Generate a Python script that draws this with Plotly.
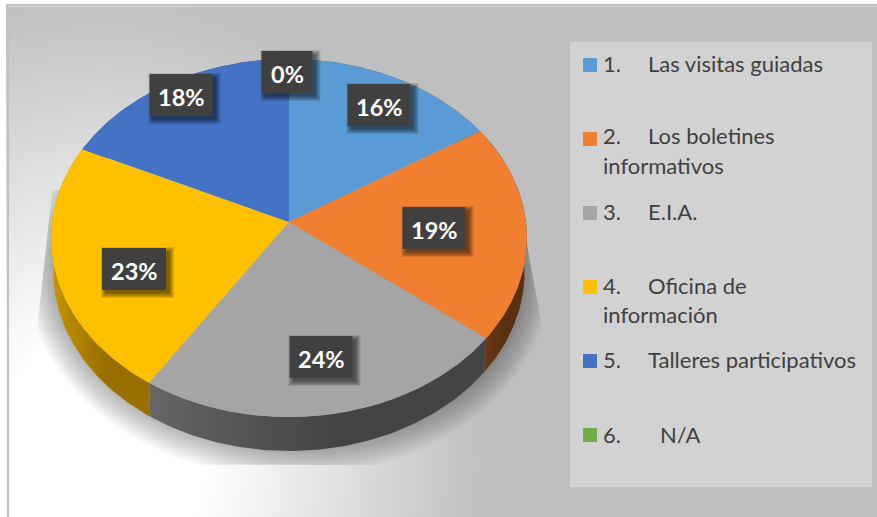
import numpy as np
import plotly.graph_objects as go

# ---- data ----
categories = ["1.", "2.", "3.", "4.", "5.", "6."]
category_names = ["Las visitas guiadas", "Los boletines informativos", "E.I.A.",
                  "Oficina de información", "Talleres participativos", "N/A"]
shares = [16.0, 19.6, 23.6, 22.8, 18.0, 0.0]
percent_labels = ["16%", "19%", "24%", "23%", "18%", "0%"]

# ---- style ----
top_colors = ["#5b9bd5", "#f07f30", "#a5a5a5", "#ffc000", "#4472c4", "#70ad47"]
side_colors = [("#33577a", "#33577a"), ("#6e3a14", "#5a2f10"), ("#666666", "#444444"),
               ("#c49400", "#996f00"), ("#2a4a80", "#2a4a80"), ("#41662a", "#41662a")]
W, H_PX = 877, 517
CX, CY = 289.0, 222.0
RX, RY, K = 237.0, 177.6, 0.0894
DEPTH = 34.0
label_boxes = [(379, 105, 63, 42), (434, 228, 63, 42), (321, 357, 63, 42),
               (134, 269, 64, 42), (181, 95, 63, 42), (287, 72, 51, 42)]
legend_rows = [[("1.", "Las visitas guiadas", 63.5)],
               [("2.", "Los boletines", 135.5), ("", "informativos", 165.5)],
               [("3.", "E.I.A.", 211.5)],
               [("4.", "Oficina de", 285.5), ("", "información", 314.5)],
               [("5.", "Talleres participativos", 359.5)],
               [("6.", "N/A", 434.5)]]
marker_y = [65, 139, 213, 287, 361, 435]
FONT = "Lato"


def rim(theta, e=0.0, dy=0.0, xs=1.0):
    u, v = np.sin(theta), np.cos(theta)
    d = 1 + K * v
    return CX + xs * (RX + e) * u / d, CY + dy - (RY + e) * v / d


fig = go.Figure()

# background gradient
gx = np.arange(9, W + 6, 6.0)
gy = np.arange(7, H_PX + 6, 6.0)
XX, YY = np.meshgrid(gx, gy)
rr = np.hypot(XX - 100, (YY - 460) * 0.82)
zz = 1 - np.clip((rr - 105) / 280, 0, 1)
fig.add_trace(go.Heatmap(x=gx, y=gy, z=zz, zmin=0, zmax=1, zsmooth="best", showscale=False,
                         colorscale=[[0, "#bfbfbf"], [1, "#ffffff"]], hoverinfo="skip"))

# legend panel
fig.add_trace(go.Scatter(x=[570, 872, 872, 570, 570], y=[42, 42, 487, 487, 42], mode="lines",
                         line_width=0, fill="toself", fillcolor="#d2d2d2", hoverinfo="skip",
                         showlegend=False))

# ground shadow
t_all = np.linspace(0, 2 * np.pi, 361)
for e in np.arange(24, -1, -2.0):
    sx, sy = rim(t_all, e=e, dy=DEPTH)
    sy = np.clip(sy, 190, 465)
    lo = 37 + np.clip(330 - sy, 0, None) * 15 / 140
    hi = 543 - np.clip(330 - sy, 0, None) * 13 / 70
    sx = np.clip(sx, lo, hi)
    fig.add_trace(go.Scatter(x=sx, y=sy, mode="lines", line_width=0, fill="toself",
                             fillcolor="rgba(0,0,0,0.024)", hoverinfo="skip", showlegend=False))

# slices: sides first, then tops
edges = np.cumsum([0.0] + shares) / 100 * 2 * np.pi
for i in range(len(shares)):
    if shares[i] <= 0:
        continue
    th = np.linspace(edges[i], edges[i + 1], 120)
    tx, ty = rim(th)
    bx, by = rim(th, dy=DEPTH, xs=0.99)
    fig.add_trace(go.Scatter(
        x=np.r_[tx, bx[::-1]], y=np.r_[ty, by[::-1]], mode="lines", line_width=0, fill="toself",
        fillgradient=dict(type="horizontal",
                          colorscale=[[0, side_colors[i][0]], [0.55, side_colors[i][1]],
                                      [1, side_colors[i][1]]]),
        hoverinfo="skip", showlegend=False))
for i in range(len(shares)):
    if shares[i] <= 0:
        continue
    th = np.linspace(edges[i], edges[i + 1], 120)
    tx, ty = rim(th)
    fig.add_trace(go.Scatter(x=np.r_[CX, tx, CX], y=np.r_[CY, ty, CY], mode="lines", line_width=0,
                             fill="toself", fillcolor=top_colors[i], name=category_names[i],
                             hoverinfo="name", showlegend=False))

# legend keys
for i, c in enumerate(categories):
    fig.add_trace(go.Scatter(x=[590], y=[marker_y[i]], mode="markers", name=category_names[i],
                             marker=dict(symbol="square", size=14, color=top_colors[i],
                                         line_width=0),
                             hoverinfo="name", showlegend=False))

shapes = []
annotations = []
for (cx, cy, w, h), txt in zip(label_boxes, percent_labels):
    for s in range(6, 0, -1):
        shapes.append(dict(type="rect", x0=cx - w / 2 + 5 - s, x1=cx + w / 2 + 2 + s,
                           y0=cy - h / 2 + 5 - s, y1=cy + h / 2 + 2 + s, line_width=0,
                           fillcolor="rgba(0,0,0,0.11)", layer="above"))
    shapes.append(dict(type="rect", x0=cx - w / 2, x1=cx + w / 2, y0=cy - h / 2, y1=cy + h / 2,
                       line_width=0, fillcolor="#404040", layer="above"))
    annotations.append(dict(x=cx, y=cy + 2, text=f"<b>{txt}</b>", showarrow=False,
                            font=dict(family=FONT, size=23.5, color="#ffffff"),
                            xanchor="center", yanchor="middle"))

for row in legend_rows:
    for num, name, y in row:
        if num:
            annotations.append(dict(x=601, y=y, text=num, showarrow=False, xanchor="left",
                                    yanchor="middle", font=dict(family=FONT, size=22, color="#404040")))
            x_name = 658 if name == "N/A" else 646
        else:
            x_name = 601
        annotations.append(dict(x=x_name, y=y, text=name, showarrow=False, xanchor="left",
                                yanchor="middle", font=dict(family=FONT, size=22, color="#404040")))

# outer frame edge
shapes.append(dict(type="line", x0=8, x1=8, y0=6, y1=517, line=dict(color="#c0c0c0", width=2),
                   layer="above"))
shapes.append(dict(type="line", x0=8, x1=877, y0=6.5, y1=6.5, line=dict(color="#d8d8d8", width=1),
                   layer="above"))

fig.update_layout(
    width=W, height=H_PX, margin=dict(l=0, r=0, t=0, b=0), paper_bgcolor="#ffffff",
    plot_bgcolor="#ffffff", showlegend=False, shapes=shapes, annotations=annotations,
    xaxis=dict(range=[0, W], visible=False, fixedrange=True),
    yaxis=dict(range=[H_PX, 0], visible=False, fixedrange=True),
)
fig.write_html("out.html", config=dict(displayModeBar=False),
               post_script="document.body.style.margin='0';document.body.style.overflow='hidden';")
